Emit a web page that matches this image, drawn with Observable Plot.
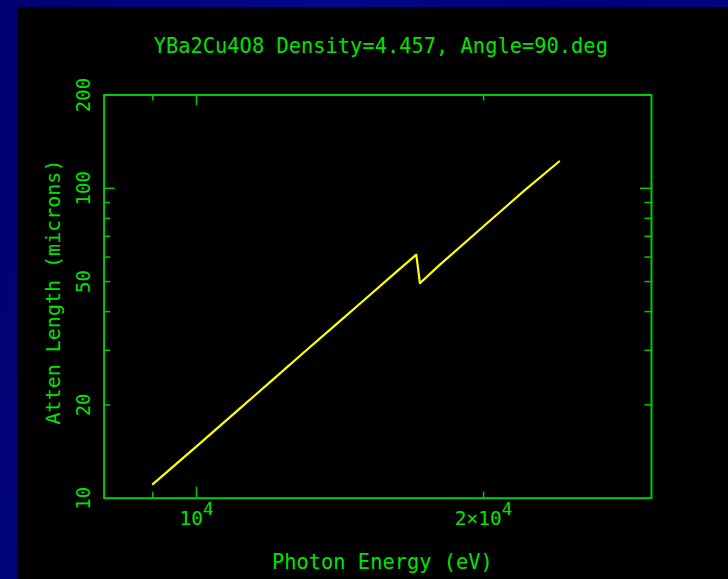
<!DOCTYPE html>
<html><head><meta charset="utf-8">
<script src="https://cdn.jsdelivr.net/npm/d3@7"></script>
<script src="https://cdn.jsdelivr.net/npm/@observablehq/plot@0.6"></script>
<style>
html,body{margin:0;padding:0;width:728px;height:579px;overflow:hidden;
  background:linear-gradient(100deg,#000070 0%,#00088a 40%,#000078 70%,#000a86 100%);}
#chart{position:absolute;left:17px;top:7px;width:711px;height:572px;background:#000;}
#chart svg{display:block;}
</style></head><body><div id="chart"></div>
<script>
// ---- data ----
const energy = [9000, 10000, 11000, 12000, 13000, 14000, 15000, 16000, 17000, 17150, 18000, 20000, 22000, 24000];
const attenLength = [11.1, 14.7, 19.0, 24.0, 29.8, 36.3, 43.7, 52.0, 61.1, 49.4, 56.7, 75.4, 97.5, 122];

const titleText = "YBa2Cu4O8 Density=4.457, Angle=90.deg";
const xLabel = "Photon Energy (eV)";
const yLabel = "Atten Length (microns)";

const xDomain = [8000, 30000];
const yDomain = [10, 200];
const xMajorTicks = [10000];
const xMinorTicks = [9000, 20000];
const yMajorTicks = [100];
const yMinorTicks = [20, 30, 40, 50, 60, 70, 80, 90];
const xTickValues = [10000, 20000];
const xTickLabels = ["10^4", "2×10^4"];
const yTickValues = [10, 20, 50, 100, 200];
const yTickLabels = ["10", "20", "50", "100", "200"];

// ---- layout ----
const W = 711, H = 572;
const mL = 86.6, mR = 77, mT = 87.5, mB = 81.3;
const FW = W - mL - mR, FH = H - mT - mB;
const green = "#00cc00", textGreen = "#00e400", yellow = "#ffff00";
const font = "'DejaVu Sans Mono', monospace";

const data = energy.map((e, i) => ({E: e, L: attenLength[i]}));
const xTicks = xTickValues.map((v, i) => ({v, t: xTickLabels[i]}));
const yTicks = yTickValues.map((v, i) => ({v, t: yTickLabels[i]}));

const chart = Plot.plot({
  width: W, height: H,
  marginLeft: mL, marginRight: mR, marginTop: mT, marginBottom: mB,
  style: {background: "#000", color: textGreen, fontFamily: font},
  x: {type: "log", domain: xDomain, axis: null},
  y: {type: "log", domain: yDomain, axis: null},
  marks: [
    Plot.frame({stroke: green, strokeWidth: 2}),
    // bottom / top ticks
    Plot.tickX(xMinorTicks, {x: d => d, stroke: green, strokeWidth: 1.5, insetTop: FH - 6}),
    Plot.tickX(xMinorTicks, {x: d => d, stroke: green, strokeWidth: 1.5, insetBottom: FH - 6}),
    Plot.tickX(xMajorTicks, {x: d => d, stroke: green, strokeWidth: 1.5, insetTop: FH - 11}),
    Plot.tickX(xMajorTicks, {x: d => d, stroke: green, strokeWidth: 1.5, insetBottom: FH - 11}),
    // left / right ticks
    Plot.tickY(yMinorTicks, {y: d => d, stroke: green, strokeWidth: 1.5, insetRight: FW - 6.5}),
    Plot.tickY(yMinorTicks, {y: d => d, stroke: green, strokeWidth: 1.5, insetLeft: FW - 6.5}),
    Plot.tickY(yMajorTicks, {y: d => d, stroke: green, strokeWidth: 1.5, insetRight: FW - 11}),
    Plot.tickY(yMajorTicks, {y: d => d, stroke: green, strokeWidth: 1.5, insetLeft: FW - 11}),
    // curve
    Plot.line(data, {x: "E", y: "L", stroke: yellow, strokeWidth: 2.2}),
    // tick labels
    Plot.text(xTicks, {x: "v", text: "t", frameAnchor: "bottom", lineAnchor: "bottom", textAnchor: "middle", dy: 27,
      fill: textGreen, fontSize: 19.5, fontFamily: font}),
    Plot.text(yTicks, {y: "v", text: "t", frameAnchor: "left", lineAnchor: "bottom", textAnchor: "middle", rotate: -90, dx: -13.8,
      fill: textGreen, fontSize: 19, fontFamily: font}),
    // title & axis labels
    Plot.text([titleText], {text: d => d, frameAnchor: "top", lineAnchor: "bottom", textAnchor: "middle", dy: -41.8, dx: 3,
      fill: textGreen, fontSize: 20.4, fontFamily: font}),
    Plot.text([xLabel], {text: d => d, frameAnchor: "bottom", lineAnchor: "bottom", textAnchor: "middle", dy: 70.6, dx: 4.6,
      fill: textGreen, fontSize: 20.4, fontFamily: font}),
    Plot.text([yLabel], {text: d => d, frameAnchor: "left", lineAnchor: "bottom", textAnchor: "middle", rotate: -90, dx: -44.6, dy: -4.6,
      fill: textGreen, fontSize: 20, fontFamily: font})
  ]
});

// superscript exponents in x tick labels (e.g. "10^4")
d3.select(chart).selectAll("text").each(function () {
  const s = this.textContent;
  const i = s.indexOf("^");
  if (i < 0) return;
  const sel = d3.select(this);
  sel.text(null);
  sel.append("tspan").text(s.slice(0, i));
  sel.append("tspan").attr("dy", -10).attr("font-size", 17.5).text(s.slice(i + 1));
});

document.getElementById("chart").appendChild(chart);
</script>
</body></html>
